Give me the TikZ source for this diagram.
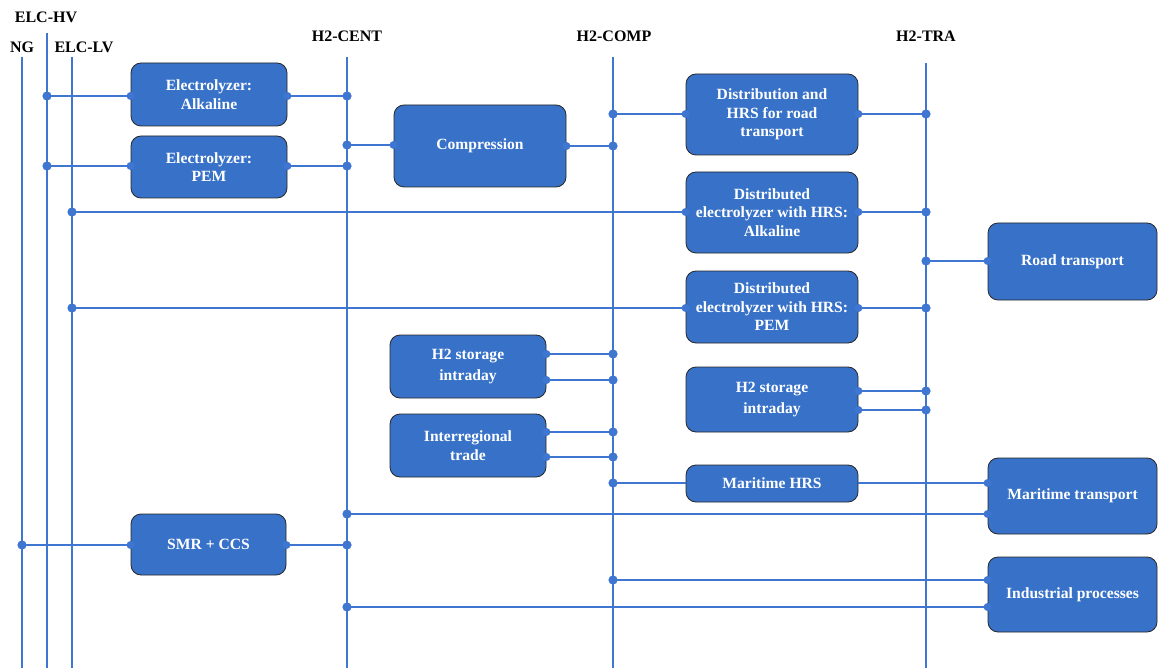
\documentclass[tikz,border=0pt]{standalone}
\usepackage{fontspec}
\setmainfont{Liberation Serif}
\definecolor{linec}{RGB}{62,118,210}
\definecolor{boxc}{RGB}{56,114,200}
\tikzset{
  box/.style={draw=black!85, line width=0.8pt, fill=boxc, rounded corners=10pt, text=white, align=center, inner sep=0pt,
    font=\bfseries\fontsize{15.6}{18.5}\selectfont},
  bus/.style={draw=linec, line width=1.7pt},
  conn/.style={draw=linec, line width=1.7pt},
  hdr/.style={font=\bfseries\fontsize{16}{18}\selectfont, text=black, inner sep=0pt},
}
\newcommand{\jdot}[1]{\fill[linec] (#1) circle (4.6pt);}
\newcommand{\edot}[1]{\fill[linec] (#1) circle (4pt);}
\begin{document}
\begin{tikzpicture}[x=1pt,y=-1pt]
\fill[white] (0,0) rectangle (1158,668);
\useasboundingbox (0,0) rectangle (1158,668);
% headers
\node[hdr] (lng) at (22,47) {NG};
\node[hdr] (lhv) at (46,17) {ELC-HV};
\node[hdr] (llv) at (84,47) {ELC-LV};
\node[hdr] (lcent) at (347,36) {H2-CENT};
\node[hdr] (lcomp) at (614,36) {H2-COMP};
\node[hdr] (ltra) at (926,36) {H2-TRA};
% bus coordinates
\coordinate (ngT) at (22,57);  \coordinate (ngB) at (22,668);
\coordinate (hvT) at (47,33);  \coordinate (hvB) at (47,668);
\coordinate (lvT) at (72,57);  \coordinate (lvB) at (72,668);
\coordinate (ceT) at (347,57); \coordinate (ceB) at (347,668);
\coordinate (coT) at (613,57); \coordinate (coB) at (613,668);
\coordinate (trT) at (926,63); \coordinate (trB) at (926,668);
% boxes
\node[box, minimum width=156pt, minimum height=63pt] (ea) at (209,94.5) {Electrolyzer:\\Alkaline};
\node[box, minimum width=156pt, minimum height=62pt] (ep) at (209,167) {Electrolyzer:\\PEM};
\node[box, minimum width=172pt, minimum height=82pt] (comp) at (480,146) {Compression};
\node[box, minimum width=172pt, minimum height=81pt] (dist) at (772,114.5) {Distribution and\\HRS for road\\transport};
\node[box, minimum width=172pt, minimum height=81pt] (dea) at (772,212.5) {Distributed\\electrolyzer with HRS:\\Alkaline};
\node[box, minimum width=172pt, minimum height=72pt] (dep) at (772,307) {Distributed\\electrolyzer with HRS:\\PEM};
\node[box, minimum width=169pt, minimum height=77pt] (road) at (1072.5,261.5) {Road transport};
\node[box, minimum width=156pt, minimum height=63pt] (sl) at (468,366.5) {H2 storage\\[3pt]intraday};
\node[box, minimum width=156pt, minimum height=63pt] (it) at (468,445.5) {Interregional\\trade};
\node[box, minimum width=172pt, minimum height=65pt] (sr) at (772,399.5) {H2 storage\\[3pt]intraday};
\node[box, minimum width=172pt, minimum height=37pt] (mh) at (772,483.5) {Maritime HRS};
\node[box, minimum width=169pt, minimum height=76pt] (mt) at (1072.5,496) {Maritime transport};
\node[box, minimum width=169pt, minimum height=75pt] (ip) at (1072.5,594.5) {Industrial processes};
\node[box, minimum width=155pt, minimum height=61pt] (smr) at (208.5,544.5) {SMR + CCS};
% buses
\draw[bus] (ngT) -- (ngB);
\draw[bus] (hvT) -- (hvB);
\draw[bus] (lvT) -- (lvB);
\draw[bus] (ceT) -- (ceB);
\draw[bus] (coT) -- (coB);
\draw[bus] (trT) -- (trB);
% junction coordinates
\coordinate (j1) at (47,96);   \coordinate (k1) at (347,96);
\coordinate (j2) at (47,166);  \coordinate (k2) at (347,166);
\coordinate (j3) at (347,145); \coordinate (k3) at (613,146);
\coordinate (j4) at (613,114); \coordinate (k4) at (926,114);
\coordinate (j5) at (72,212);  \coordinate (k5) at (926,212);
\coordinate (j6) at (926,261);
\coordinate (j7) at (72,308);  \coordinate (k7) at (926,308);
\coordinate (j8) at (613,354); \coordinate (k8) at (613,380);
\coordinate (j9) at (613,432); \coordinate (k9) at (613,457);
\coordinate (j10) at (926,391); \coordinate (k10) at (926,410);
\coordinate (j11) at (613,483);
\coordinate (j12) at (347,514);
\coordinate (j13) at (22,545); \coordinate (k13) at (347,545);
\coordinate (j14) at (613,580);
\coordinate (j15) at (347,607);
% connectors
\draw[conn] (j1) -- (j1 -| ea.west);  \draw[conn] (k1 -| ea.east) -- (k1);
\draw[conn] (j2) -- (j2 -| ep.west);  \draw[conn] (k2 -| ep.east) -- (k2);
\draw[conn] (j3) -- (j3 -| comp.west); \draw[conn] (k3 -| comp.east) -- (k3);
\draw[conn] (j4) -- (j4 -| dist.west); \draw[conn] (k4 -| dist.east) -- (k4);
\draw[conn] (j5) -- (j5 -| dea.west); \draw[conn] (k5 -| dea.east) -- (k5);
\draw[conn] (j6) -- (j6 -| road.west);
\draw[conn] (j7) -- (j7 -| dep.west); \draw[conn] (k7 -| dep.east) -- (k7);
\draw[conn] (j8 -| sl.east) -- (j8);  \draw[conn] (k8 -| sl.east) -- (k8);
\draw[conn] (j9 -| it.east) -- (j9);  \draw[conn] (k9 -| it.east) -- (k9);
\draw[conn] (j10 -| sr.east) -- (j10); \draw[conn] (k10 -| sr.east) -- (k10);
\draw[conn] (j11) -- (j11 -| mh.west); \draw[conn] (j11 -| mh.east) -- (j11 -| mt.west);
\draw[conn] (j12) -- (j12 -| mt.west);
\draw[conn] (j13) -- (j13 -| smr.west); \draw[conn] (k13 -| smr.east) -- (k13);
\draw[conn] (j14) -- (j14 -| ip.west);
\draw[conn] (j15) -- (j15 -| ip.west);
% junction dots
\foreach \p in {j1,k1,j2,k2,j3,k3,j4,k4,j5,k5,j6,j7,k7,j8,k8,j9,k9,j10,k10,j11,j12,j13,k13,j14,j15} {\jdot{\p}}
% box edge dots
\edot{j1 -| ea.west} \edot{k1 -| ea.east}
\edot{j2 -| ep.west} \edot{k2 -| ep.east}
\edot{j3 -| comp.west} \edot{k3 -| comp.east}
\edot{j4 -| dist.west} \edot{k4 -| dist.east}
\edot{j5 -| dea.west} \edot{k5 -| dea.east}
\edot{j6 -| road.west}
\edot{j7 -| dep.west} \edot{k7 -| dep.east}
\edot{j8 -| sl.east} \edot{k8 -| sl.east}
\edot{j9 -| it.east} \edot{k9 -| it.east}
\edot{j10 -| sr.east} \edot{k10 -| sr.east}
\edot{j11 -| mt.west}
\edot{j12 -| mt.west}
\edot{j13 -| smr.west} \edot{k13 -| smr.east}
\edot{j14 -| ip.west} \edot{j15 -| ip.west}
\end{tikzpicture}
\end{document}
